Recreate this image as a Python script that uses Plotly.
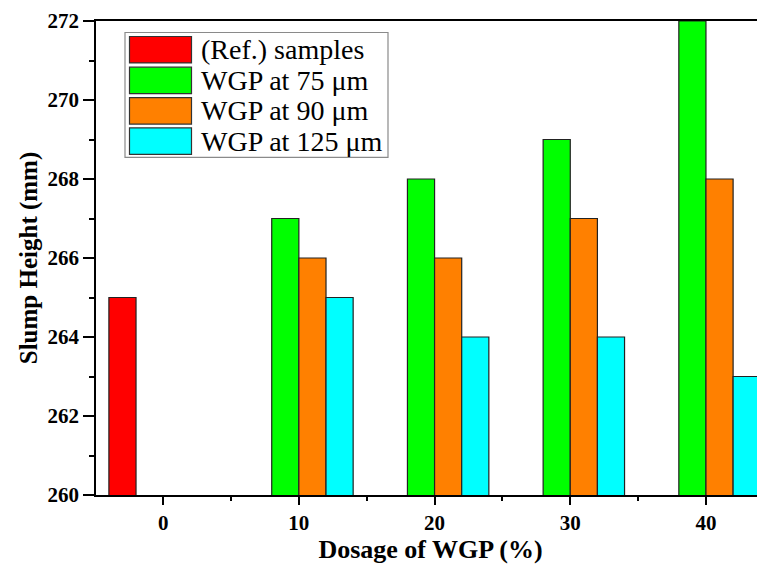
import plotly.graph_objects as go

# ---- data ----
dosage_ref = [0]
ref_values = [265]
dosage_wgp = [10, 20, 30, 40]
wgp_75 = [267, 268, 269, 272]
wgp_90 = [266, 266, 267, 268]
wgp_125 = [265, 264, 264, 263]
series_names = ["(Ref.) samples", "WGP at 75 μm", "WGP at 90 μm", "WGP at 125 μm"]
y_ticks = [260, 262, 264, 266, 268, 270, 272]
x_ticks = [0, 10, 20, 30, 40]

colors = ["#FF0000", "#00FF00", "#FF8000", "#00FFFF"]
OFF = 8  # page body margin
W, H = 765 - OFF, 573 - OFF
# plot area in screenshot pixels
SL, SR, ST, SB = 96, 765, 20.5, 495
L, R, T, B = SL - OFF, SR - OFF, ST - OFF, SB - OFF

SERIF = "Liberation Serif, Times New Roman, serif"
line = dict(color="#222222", width=1.2)

fig = go.Figure()
traces = [
    (dosage_ref, ref_values, -4),
    (dosage_wgp, wgp_75, -2),
    (dosage_wgp, wgp_90, 0),
    (dosage_wgp, wgp_125, 2),
]
for (xs, ys, off), name, c in zip(traces, series_names, colors):
    fig.add_trace(go.Bar(x=xs, y=ys, name=name, width=2, offset=off,
                         marker=dict(color=c, line=line), showlegend=False))


def px(xp):  # screenshot x -> paper
    return (xp - SL) / (SR - SL)


def py(yp):  # screenshot y -> paper
    return (SB - yp) / (SB - ST)


shapes = []
annotations = []
# legend box
shapes.append(dict(type="rect", xref="paper", yref="paper",
                   x0=px(125), x1=px(388), y0=py(157), y1=py(32),
                   line=dict(color="#8a8a8a", width=1.2), fillcolor="white", layer="above"))
row_top = [36, 66.7, 97.2, 127.5]
row_h = 26.5
for i, (name, c) in enumerate(zip(series_names, colors)):
    y0 = row_top[i]
    shapes.append(dict(type="rect", xref="paper", yref="paper",
                       x0=px(129.5), x1=px(191.5), y0=py(y0 + row_h), y1=py(y0),
                       line=dict(color="#333333", width=1.2), fillcolor=c, layer="above"))
    annotations.append(dict(xref="paper", yref="paper", x=px(199), y=py(y0 + row_h / 2),
                            text=name, showarrow=False, xanchor="left", yanchor="middle",
                            font=dict(family=SERIF, size=28, color="black")))

fig.update_layout(
    width=W, height=H,
    margin=dict(l=L, r=W - R, t=T, b=H - B, pad=0, autoexpand=False),
    paper_bgcolor="white", plot_bgcolor="white",
    barmode="overlay",
    shapes=shapes, annotations=annotations,
    showlegend=False,
)
fig.update_xaxes(
    automargin=False,
    range=[-4.95, 44.35], tickvals=x_ticks, ticktext=[str(v) for v in x_ticks],
    ticks="outside", ticklen=8, tickwidth=1.5, tickcolor="black",
    minor=dict(dtick=5, tick0=0, ticks="outside", ticklen=4, tickwidth=1.5, tickcolor="black"),
    showline=True, linecolor="black", linewidth=1.5, mirror=True,
    showgrid=False, zeroline=False,
    tickfont=dict(family=SERIF, size=21, weight="bold", color="black"),
    title=dict(text="Dosage of WGP (%)", standoff=6,
               font=dict(family=SERIF, size=26, weight="bold", color="black")),
)
fig.update_yaxes(
    automargin=False,
    range=[260, 272], tickvals=y_ticks, ticktext=[str(v) for v in y_ticks],
    ticklabeloverflow="allow",
    ticks="outside", ticklen=11, tickwidth=1.5, tickcolor="black",
    minor=dict(dtick=1, tick0=260, ticks="outside", ticklen=5, tickwidth=1.5, tickcolor="black"),
    showline=True, linecolor="black", linewidth=1.5, mirror=False,
    showgrid=False, zeroline=False,
    tickfont=dict(family=SERIF, size=21, weight="bold", color="black"),
    title=dict(text="Slump Height (mm)", standoff=3,
               font=dict(family=SERIF, size=25, weight="bold", color="black")),
)

fig.write_html("out.html")
